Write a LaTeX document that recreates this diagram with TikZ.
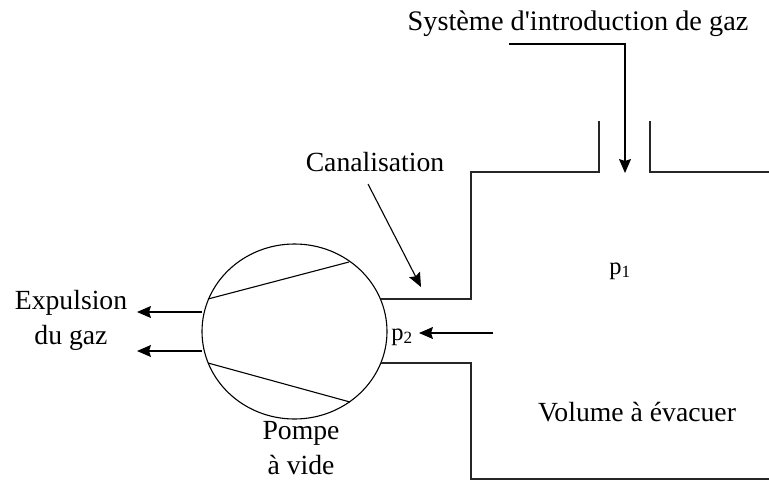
\documentclass[tikz,border=0pt]{standalone}
\usepackage{fontspec}
\newfontfamily\plainserif{Liberation Serif}
\usetikzlibrary{arrows.meta,shapes.geometric}
\tikzset{wall/.style={draw=black!85,line width=1.1pt},
arr/.style={draw=black,line width=1.1pt,-{Stealth[length=14pt,width=12pt,inset=2pt]}},
lab/.style={font=\plainserif\fontsize{27.7}{35}\selectfont,inner sep=0pt,align=center,anchor=center},
press/.style={font=\plainserif\fontsize{24.5}{30}\selectfont,inner sep=0pt,anchor=center}}
\begin{document}
\begin{tikzpicture}[x=1pt,y=-1pt]
\useasboundingbox (0,0) rectangle (769,480);
\node[lab,font=\plainserif\fontsize{28.3}{35}\selectfont] (sys) at (578,24) {Système d'introduction de gaz};
\node[lab] (can) at (375,162) {Canalisation};
\node[lab] (exp) at (71,320) {Expulsion\\du gaz};
\node[lab] (pompe) at (301,448) {Pompe\\à vide};
\node[lab] (vol) at (637,412) {Volume à évacuer};
\node[press] (p1) at (620,271) {p\textsubscript{1}};
\node[press] (p2) at (402,337) {p\textsubscript{2}};
\node[draw=black,line width=1.1pt,ellipse,minimum width=185pt,minimum height=175pt,inner sep=0pt] (pump) at (294.5,331.5) {};
\coordinate (w1) at (381,299); \coordinate (w2) at (471,299); \coordinate (w3) at (471,172);
\coordinate (w4) at (599,172); \coordinate (w5) at (599,121);
\coordinate (w6) at (650,121); \coordinate (w7) at (650,172); \coordinate (w8) at (769,172);
\coordinate (b1) at (381,363); \coordinate (b2) at (471,363); \coordinate (b3) at (471,479); \coordinate (b4) at (769,479);
\draw[wall] (w1)--(w2)--(w3)--(w4)--(w5);
\draw[wall] (w6)--(w7)--(w8);
\draw[wall] (b1)--(b2)--(b3)--(b4);
\coordinate (v1) at (208,299); \coordinate (v2) at (349,262);
\coordinate (v3) at (208,363); \coordinate (v4) at (350,402);
\draw[draw=black,line width=1.1pt] (v1)--(v2); \draw[draw=black,line width=1.1pt] (v3)--(v4);
\coordinate (s1) at (509,44); \coordinate (s2) at (625,44); \coordinate (s3) at (625,173);
\draw[arr] (s1)--(s2)--(s3);
\coordinate (c1) at (368,184); \coordinate (c2) at (421,287);
\draw[arr] (c1)--(c2);
\coordinate (e1) at (202,312); \coordinate (e2) at (137,312);
\coordinate (e3) at (202,351); \coordinate (e4) at (137,351);
\draw[arr] (e1)--(e2); \draw[arr] (e3)--(e4);
\coordinate (a1) at (493,333); \coordinate (a2) at (419,333);
\draw[arr] (a1)--(a2);
\end{tikzpicture}
\end{document}
